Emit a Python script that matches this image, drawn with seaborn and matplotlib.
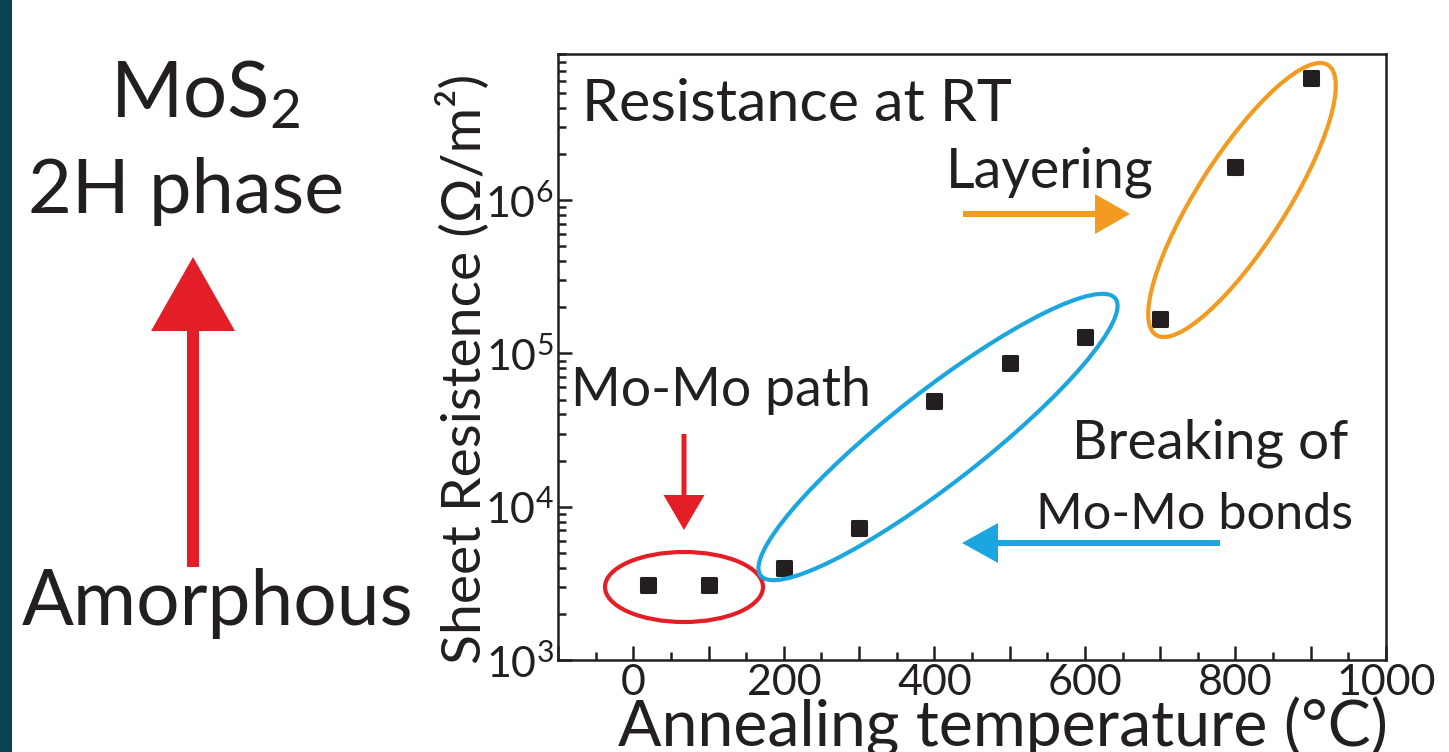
import numpy as np
import pandas as pd
import seaborn as sns
import matplotlib
matplotlib.use("Agg")
import matplotlib.pyplot as plt
from matplotlib.patches import Ellipse, Rectangle, FancyArrow
from matplotlib.ticker import (MultipleLocator, LogLocator, FuncFormatter,
                               NullFormatter, FixedLocator, FixedFormatter)

# ---------------- data ----------------
temperature_c = [20, 100, 200, 300, 400, 500, 600, 700, 800, 900]
sheet_resistance = [3.1e3, 3.1e3, 4.0e3, 7.3e3, 4.9e4, 8.7e4, 1.28e5, 1.68e5, 1.65e6, 6.3e6]
x_tick_values = [0, 200, 400, 600, 800, 1000]
x_tick_labels = ["0", "200", "400", "600", "800", "1000"]
y_tick_values = [1e3, 1e4, 1e5, 1e6]
y_tick_labels = ["$\\mathregular{10^{3}}$", "$\\mathregular{10^{4}}$",
                 "$\\mathregular{10^{5}}$", "$\\mathregular{10^{6}}$"]
x_label = "Annealing temperature (°C)"
y_label = "Sheet Resistence (Ω/m²)"
title_text = "Resistance at RT"
left_top = "MoS$_\\mathregular{2}$"
left_mid = "2H phase"
left_bottom = "Amorphous"
note_layer = "Layering"
note_path = "Mo-Mo path"
note_break1 = "Breaking of"
note_break2 = "Mo-Mo bonds"

# ---------------- style ----------------
W, H = 1449, 752
sns.set_theme(style="ticks")
FONT = ["Lato", "DejaVu Sans"]
plt.rcParams["font.family"] = FONT
plt.rcParams["mathtext.fontset"] = "custom"
plt.rcParams["mathtext.rm"] = "Lato"
plt.rcParams["mathtext.it"] = "Lato:italic"
plt.rcParams["mathtext.bf"] = "Lato:bold"

INK = "#231f20"
RED = "#e31e26"
BLUE = "#1ca6df"
ORANGE = "#f39a20"
TEAL = "#0a4251"

fig = plt.figure(figsize=(W / 100, H / 100), dpi=100, facecolor="white")


def px_rect(l, t, r, b):
    return [l / W, 1 - b / H, (r - l) / W, (b - t) / H]


ax = fig.add_axes(px_rect(558, 54, 1386, 660), zorder=2)
df = pd.DataFrame({"T": temperature_c, "R": sheet_resistance})
sns.scatterplot(data=df, x="T", y="R", marker="s", s=115, color=INK,
                edgecolor=INK, linewidth=2.2, ax=ax, zorder=4, legend=False)
ax.collections[0].set_joinstyle("round")
ax.set_yscale("log")
ax.set_xlim(-100, 1000)
ax.set_ylim(1e3, 9e6)
ax.set_xlabel("")
ax.set_ylabel("")

xlab = dict(zip(x_tick_values, x_tick_labels))
ax.xaxis.set_major_locator(MultipleLocator(100))
ax.xaxis.set_minor_locator(MultipleLocator(50))
ax.xaxis.set_major_formatter(FuncFormatter(lambda v, p: xlab.get(int(round(v)), "")))
ax.yaxis.set_major_locator(FixedLocator(y_tick_values))
ax.yaxis.set_major_formatter(FixedFormatter(y_tick_labels))
ax.yaxis.set_minor_locator(LogLocator(base=10, subs=np.arange(2, 10), numticks=20))
ax.yaxis.set_minor_formatter(NullFormatter())

ax.tick_params(which="both", direction="in", top=False, right=False,
               bottom=True, left=True, color=INK, width=1.8)
ax.tick_params(which="major", length=10, labelsize=31, labelcolor=INK)
ax.tick_params(axis="x", which="major", pad=3)
ax.tick_params(axis="y", which="major", pad=3)
ax.tick_params(which="minor", length=5.5)
for sp in ax.spines.values():
    sp.set_linewidth(1.8)
    sp.set_color(INK)
    sp.set_visible(True)

# ---------------- overlay in pixel coordinates ----------------
ov = fig.add_axes([0, 0, 1, 1], zorder=5)
ov.set_xlim(0, W)
ov.set_ylim(H, 0)
ov.axis("off")
ov.patch.set_alpha(0)

ov.add_patch(Rectangle((0, 0), 12, H, color=TEAL, lw=0))

renderer = fig.canvas.get_renderer()


def fit(t, target, dim="w"):
    bb = t.get_window_extent(renderer)
    cur = bb.width if dim == "w" else bb.height
    t.set_fontsize(t.get_fontsize() * target / cur)
    return t


def put(x, y, s, target, ha="left", va="baseline", dim="w", **kw):
    t = ov.text(x, y, s, ha=ha, va=va, color=INK, fontsize=30, **kw)
    return fit(t, target, dim)


# left panel
put(110, 117, left_top, 192)
put(28, 213, left_mid, 316)
put(22, 625, left_bottom, 392)
ov.add_patch(FancyArrow(193, 567, 0, -310, width=12, head_width=84, head_length=74,
                        length_includes_head=True, color=RED, lw=0))

# axis labels
put(1003, 746, x_label, 770, ha="center")
put(462, 369, y_label, 590, ha="center", va="center", dim="h", rotation=90)

# annotations inside the plot
put(582, 121, title_text, 430)
put(946, 188, note_layer, 208)
put(571, 406, note_path, 300)
put(1348, 459, note_break1, 276, ha="right")
put(1353, 529, note_break2, 317, ha="right")

ov.add_patch(Ellipse((684, 587), 158, 70, angle=0, fill=False, ec=RED, lw=3))
ov.add_patch(Ellipse((938, 437), 450, 92, angle=-38, fill=False, ec=BLUE, lw=3))
ov.add_patch(Ellipse((1242, 200), 320, 89, angle=-57.5, fill=False, ec=ORANGE, lw=3))

ov.add_patch(FancyArrow(684, 434, 0, 96, width=5, head_width=41, head_length=35,
                        length_includes_head=True, color=RED, lw=0))
ov.add_patch(FancyArrow(963, 214, 167, 0, width=6, head_width=40, head_length=35,
                        length_includes_head=True, color=ORANGE, lw=0))
ov.add_patch(FancyArrow(1220, 543, -258, 0, width=6, head_width=40, head_length=36,
                        length_includes_head=True, color=BLUE, lw=0))

fig.savefig("out.png", dpi=100, facecolor="white")
